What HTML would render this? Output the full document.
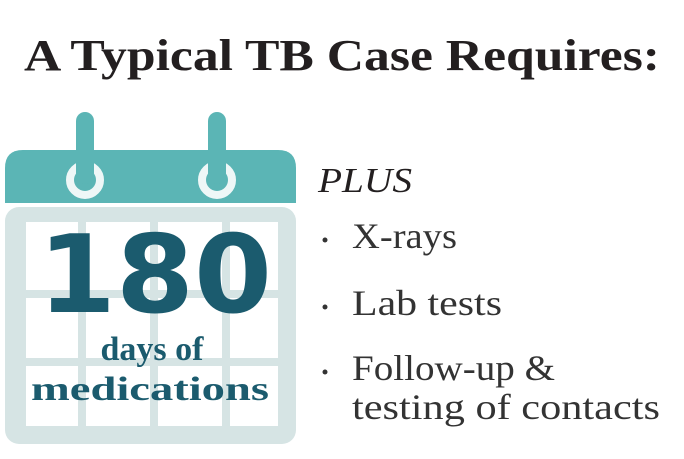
<!DOCTYPE html>
<html><head><meta charset="utf-8"><style>
html,body{margin:0;padding:0;background:#fff;width:684px;height:459px;overflow:hidden}
</style></head><body>
<svg width="684" height="459" viewBox="0 0 684 459" xmlns="http://www.w3.org/2000/svg">
  <text x="24" y="70" font-family="Liberation Serif, serif" font-weight="bold" font-size="44" fill="#231f20" textLength="636" lengthAdjust="spacingAndGlyphs">A Typical TB Case Requires:</text>

  <g>
    <rect x="5" y="207" width="291" height="237" rx="14" fill="#d6e4e4"/>
    <g fill="#fff">
      <rect x="26" y="222" width="52" height="68"/><rect x="86" y="222" width="64" height="68"/><rect x="158" y="222" width="64" height="68"/><rect x="230" y="222" width="48" height="68"/>
      <rect x="26" y="298" width="52" height="60"/><rect x="86" y="298" width="64" height="60"/><rect x="158" y="298" width="64" height="60"/><rect x="230" y="298" width="48" height="60"/>
      <rect x="26" y="366" width="52" height="60"/><rect x="86" y="366" width="64" height="60"/><rect x="158" y="366" width="64" height="60"/><rect x="230" y="366" width="48" height="60"/>
    </g>
    <path d="M5,203 V168 Q5,150 23,150 H278 Q296,150 296,168 V203 Z" fill="#5bb5b5"/>
    <circle cx="85" cy="180" r="15" fill="#5bb5b5" stroke="#eef7f7" stroke-width="8"/>
    <circle cx="217" cy="180" r="15" fill="#5bb5b5" stroke="#eef7f7" stroke-width="8"/>
    <rect x="76" y="112" width="18" height="72" rx="9" fill="#5bb5b5"/>
    <rect x="208" y="112" width="18" height="72" rx="9" fill="#5bb5b5"/>
    <text x="155" y="312" text-anchor="middle" font-family="DejaVu Sans, sans-serif" font-weight="bold" font-size="108" fill="#1b5b6e" textLength="234" lengthAdjust="spacingAndGlyphs">180</text>
    <text x="152" y="360" text-anchor="middle" font-family="Liberation Serif, serif" font-weight="bold" font-size="34" fill="#1b5b6e">days of</text>
    <text x="150" y="400" text-anchor="middle" font-family="Liberation Serif, serif" font-weight="bold" font-size="34" fill="#1b5b6e" textLength="238" lengthAdjust="spacingAndGlyphs">medications</text>
  </g>

  <text x="318" y="192" font-family="Liberation Serif, serif" font-style="italic" font-size="35" fill="#231f20" textLength="94" lengthAdjust="spacingAndGlyphs">PLUS</text>
  <g font-family="Liberation Serif, serif" font-size="36" fill="#333">
    <circle cx="325" cy="240" r="2.5" fill="#333"/>
    <text x="352" y="248" textLength="105" lengthAdjust="spacingAndGlyphs">X-rays</text>
    <circle cx="325" cy="307" r="2.5" fill="#333"/>
    <text x="352" y="315" textLength="150" lengthAdjust="spacingAndGlyphs">Lab tests</text>
    <circle cx="325" cy="372" r="2.5" fill="#333"/>
    <text x="352" y="380" textLength="203" lengthAdjust="spacingAndGlyphs">Follow-up &amp;</text>
    <text x="352" y="419" textLength="308" lengthAdjust="spacingAndGlyphs">testing of contacts</text>
  </g>
</svg>
</body></html>
